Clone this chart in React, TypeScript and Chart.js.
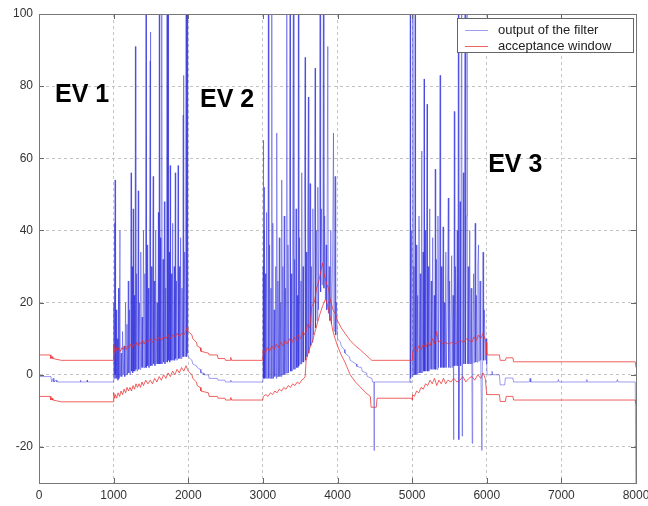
import React, { useEffect, useRef } from 'react';
import { Chart, registerables } from 'chart.js';

Chart.register(...registerables);

type P = [number, number];

// ---- axis ticks ----
const xTicks = [0, 1000, 2000, 3000, 4000, 5000, 6000, 7000, 8000];
const yTicks = [-20, 0, 20, 40, 60, 80, 100];

// ---- legend / annotation texts ----
const seriesLabels = ['output of the filter', 'acceptance window'];
const evLabelText = ['EV 1', 'EV 2', 'EV 3'];
const evLabelX = [214, 2158, 6019];
const evLabelY = [77.5, 76, 58];

// ---- output of the filter (blue) ----
const filterStart: P[] = [
  [0, 32], [5, -0.5], [160, -0.5], [170, -2], [190, -1], [200, -2], [230, -1.5], [240, -2],
  [550, -2], [555, -1.5], [560, -2], [640, -2], [645, -1.5], [650, -2], [995, -2],
];
const filterEv1: P[] = [
  [1000, -1.5], [1004, 20], [1008, -1], [1013, 42], [1016, 0], [1019, 54], [1022, -1], [1026, 30],
  [1030, 0], [1036, 18], [1042, -1], [1050, 10], [1058, -1.5], [1066, 24], [1072, -1], [1085, 40],
  [1090, -0.5], [1100, 6], [1110, -0.5], [1120, 12], [1130, 0], [1140, 8], [1150, -0.5], [1160, 20],
  [1168, 0], [1178, 14], [1186, 0], [1196, 26], [1204, 0.5], [1214, 18], [1222, 0], [1234, 56],
  [1240, 1], [1250, 30], [1256, 0.5], [1262, 46], [1268, 1], [1278, 22], [1284, 1], [1292, 91],
  [1298, 1.5], [1308, 28], [1316, 1], [1330, 51], [1336, 1.5], [1346, 20], [1354, 1.5], [1364, 34],
  [1372, 2], [1382, 16], [1390, 2], [1400, 40], [1408, 2], [1418, 28], [1426, 2], [1434, 130],
  [1440, 2], [1448, 36], [1456, 2.5], [1466, 24], [1474, 2], [1490, 87], [1493, 95], [1497, 2.5],
  [1506, 30], [1514, 2.5], [1530, 55], [1536, 3], [1546, 26], [1554, 2.5], [1564, 40], [1572, 3],
  [1582, 20], [1590, 3], [1600, 45], [1606, 3], [1612, 130], [1618, 3], [1628, 38], [1634, 3],
  [1646, 130], [1652, 3], [1662, 32], [1670, 3.5], [1680, 48], [1688, 3], [1698, 24], [1706, 3.5],
  [1716, 130], [1722, 3.5], [1730, 130], [1736, 4], [1746, 34], [1752, 3.5], [1758, 58], [1764, 4],
  [1774, 28], [1782, 4], [1792, 42], [1800, 4], [1812, 30], [1818, 4], [1826, 56], [1832, 4.5],
  [1842, 26], [1850, 4], [1864, 58], [1870, 4.5], [1880, 30], [1888, 4.5], [1898, 38], [1906, 4.5],
  [1916, 24], [1924, 5], [1932, 72], [1936, 83], [1942, 5], [1952, 34], [1960, 5], [1972, 130],
  [1978, 5], [1986, 130], [1992, 6], [2000, 5],
];
const filterGap1: P[] = [
  [2010, 5], [2050, 4], [2060, 3], [2110, 2.5], [2120, 2], [2160, 1.5], [2170, 0.5], [2200, 0.5],
  [2210, 0], [2270, 0], [2280, -1], [2390, -1], [2400, -1.5], [2490, -1.5], [2500, -2],
  [2560, -2], [2570, -1.5], [2580, -2], [2995, -2],
];
const filterEv2: P[] = [
  [3000, -1.5], [3004, 30], [3007, 65], [3011, -1], [3016, 40], [3020, 52], [3024, -1], [3032, 28],
  [3040, -1], [3050, 45], [3058, -1], [3068, 20], [3074, 130], [3080, -1], [3090, 36], [3098, -1],
  [3108, 24], [3114, -1], [3119, 130], [3124, -1], [3134, 42], [3142, -1], [3152, 18], [3160, -0.5],
  [3172, 30], [3180, -1], [3186, 67], [3192, -0.5], [3202, 26], [3210, -0.5], [3220, 38], [3228, -0.5],
  [3240, 20], [3246, -0.5], [3253, 54], [3258, 0], [3268, 30], [3276, 0], [3286, 44], [3294, 0],
  [3304, 24], [3312, 0.5], [3320, 130], [3326, 0.5], [3336, 36], [3344, 0.5], [3356, 48], [3365, 130],
  [3370, 1], [3380, 28], [3388, 1], [3398, 40], [3410, 130], [3416, 1.5], [3426, 32], [3434, 1.5],
  [3444, 46], [3452, 2], [3462, 22], [3470, 2], [3476, 130], [3482, 2.5], [3492, 38], [3500, 3],
  [3510, 26], [3516, 3], [3521, 56], [3528, 3.5], [3538, 30], [3546, 3.5], [3556, 44], [3566, 88],
  [3572, 4], [3582, 34], [3590, 5], [3600, 48], [3610, 77], [3616, 6], [3624, 36], [3633, 53],
  [3640, 8], [3650, 30], [3660, 9], [3670, 46], [3680, 11], [3690, 34], [3700, 85], [3706, 13],
  [3716, 40], [3726, 15], [3736, 52], [3746, 18], [3756, 38], [3767, 130], [3774, 23], [3784, 46],
  [3794, 25], [3804, 34], [3812, 130], [3818, 24], [3828, 44], [3838, 21], [3848, 36], [3856, 18],
  [3870, 91], [3878, 17], [3888, 30], [3898, 15], [3910, 40], [3920, 14], [3932, 28], [3946, 67],
  [3954, 12], [3968, 55], [3976, 11], [3986, 20], [4000, 10],
];
const filterGap2: P[] = [
  [4040, 9], [4050, 8], [4090, 7], [4100, 6], [4160, 5], [4170, 4], [4250, 3], [4260, 2.3],
  [4320, 2], [4330, 1], [4390, 0.5], [4400, -0.5], [4460, -1], [4470, -2], [4488, -2], [4490, -21],
  [4494, -2], [4995, -2],
];
const filterEv3: P[] = [
  [4970, -2], [4975, 130], [4980, -1], [4990, 40], [5000, -0.5], [5010, 130], [5016, 0], [5024, 30],
  [5032, 0], [5040, 130], [5046, 0], [5056, 36], [5064, 0], [5074, 22], [5082, 0.5], [5092, 44],
  [5100, 0.5], [5110, 28], [5118, 0.5], [5130, 62], [5136, 0.5], [5146, 34], [5154, 1], [5160, 82],
  [5166, 1], [5176, 40], [5184, 1], [5200, 75], [5206, 1], [5216, 30], [5224, 1], [5236, 46],
  [5244, 1.5], [5256, 26], [5264, 1.5], [5276, 38], [5284, 1.5], [5296, 22], [5304, 1.5], [5310, 57],
  [5316, 1.5], [5326, 32], [5334, 1.5], [5346, 44], [5354, 2], [5364, 24], [5375, 83], [5382, 2],
  [5392, 30], [5400, 2], [5415, 41], [5422, 2], [5432, 20], [5440, 2], [5452, 34], [5460, 2],
  [5470, 16], [5485, 49], [5492, 2], [5502, 26], [5510, 2], [5520, 14], [5530, 33], [5538, 2],
  [5548, 22], [5555, -18], [5560, 2.5], [5565, 73], [5572, 2.5], [5582, 30], [5592, 2.5], [5604, 40],
  [5612, 2.5], [5620, 130], [5626, -18], [5632, 2.5], [5642, 48], [5650, 2.5], [5665, 130], [5670, -17],
  [5676, 3], [5686, 56], [5694, 3], [5710, 130], [5716, 3], [5726, 44], [5735, 130], [5742, 3],
  [5752, 30], [5760, 3], [5772, 40], [5780, 3], [5790, 24], [5800, 3], [5805, -19], [5812, 3.3],
  [5824, 28], [5832, 3.3], [5845, 42], [5852, 3.5], [5862, 22], [5870, 3.5], [5880, 30], [5890, 36],
  [5898, 3.7], [5910, 26], [5920, 4], [5935, -21], [5942, 4], [5950, 34], [5958, 4], [5968, 18],
  [5980, 4], [5990, 10], [6000, 3],
];
const filterTail: P[] = [
  [6005, 0], [6060, 0], [6070, 1], [6080, 0], [6170, 0], [6180, -2.8], [6240, -2.8], [6250, -0.9],
  [6350, -0.9], [6360, -2], [6570, -2], [6580, -1], [6590, -2], [6950, -2], [6960, -1.3], [6970, -2],
  [7330, -2], [7340, -1.3], [7350, -2], [7740, -2], [7750, -1.3], [7760, -2], [7990, -2], [8000, -35],
];

// ---- acceptance window, upper edge (red) ----
const upperStart: P[] = [
  [0, 13], [6, 5.5], [150, 5.5], [160, 4.5], [175, 5], [185, 4.5], [300, 4], [998, 4],
];
const upperEv1: P[] = [
  [1000, 4], [1003, 8.5], [1010, 7], [1020, 6], [1035, 7.5], [1050, 6.5], [1070, 7.5], [1090, 6.5],
  [1110, 7.5], [1130, 7], [1150, 8], [1170, 7], [1190, 8], [1210, 7.5], [1230, 8.5], [1250, 7.5],
  [1270, 8.5], [1290, 8], [1310, 9], [1330, 8], [1350, 9], [1370, 8.5], [1390, 9.5], [1410, 8.5],
  [1430, 9.5], [1460, 9], [1490, 10], [1520, 9], [1550, 10], [1580, 9.5], [1610, 10.5], [1640, 9.5],
  [1670, 10.5], [1700, 10], [1730, 11], [1760, 10], [1790, 11], [1820, 10.5], [1850, 11.5], [1880, 10.5],
  [1910, 11.5], [1940, 11], [1970, 12], [1990, 13.5], [2000, 12],
];
const upperGap1: P[] = [
  [2050, 11], [2060, 10], [2110, 9], [2120, 8], [2160, 7.5], [2170, 6.5], [2270, 6], [2280, 5.5],
  [2390, 5.5], [2400, 4.5], [2490, 4.5], [2500, 4], [2560, 4], [2570, 4.8], [2580, 4], [2998, 4],
];
const upperEv2: P[] = [
  [3000, 4], [3005, 7], [3030, 6], [3060, 7.5], [3090, 6.5], [3120, 8], [3150, 7], [3180, 8.5],
  [3210, 7.5], [3240, 9], [3270, 8], [3300, 9.5], [3330, 8.5], [3360, 10], [3390, 9], [3420, 10.5],
  [3450, 9.5], [3480, 11], [3510, 10], [3540, 12], [3566, 11], [3600, 14], [3630, 13], [3655, 19],
  [3690, 20], [3720, 24], [3750, 26], [3780, 29], [3800, 31], [3820, 28], [3856, 25], [3880, 24],
  [3900, 21], [3940, 18], [3968, 17], [4000, 15],
];
const upperGap2: P[] = [
  [4050, 13], [4100, 11.5], [4170, 9.5], [4240, 8], [4300, 7], [4380, 5.5], [4460, 4], [4998, 4],
];
const upperEv3: P[] = [
  [5000, 4], [5005, 6], [5030, 7.5], [5060, 6.5], [5090, 8], [5120, 7], [5150, 8.5], [5180, 7.5],
  [5210, 9], [5240, 8], [5270, 10], [5300, 8.5], [5330, 12], [5350, 9], [5380, 9.5], [5410, 8.5],
  [5450, 9], [5490, 8.5], [5530, 9], [5570, 8.5], [5610, 9], [5650, 9.5], [5690, 9], [5730, 10],
  [5770, 9.5], [5800, 9], [5830, 10.5], [5860, 9.5], [5890, 11], [5920, 10], [5950, 11.5], [5975, 10],
  [5990, 9], [6000, 5.5],
];
const upperTail: P[] = [
  [6170, 5.5], [6180, 4], [6250, 4], [6260, 4.7], [6350, 4.7], [6360, 3.6], [7990, 3.6], [8000, 2],
];

// ---- acceptance window, lower edge (red) ----
const lowerStart: P[] = [
  [0, -1], [6, -6], [150, -6], [160, -7], [175, -6.5], [185, -7], [300, -7.5], [998, -7.5],
];
const lowerEv1: P[] = [
  [1000, -7.5], [1004, -5], [1012, -6.5], [1025, -5.5], [1040, -6.5], [1060, -5], [1080, -6], [1100, -4.5],
  [1120, -5.5], [1140, -4], [1160, -5], [1180, -3.5], [1200, -4.5], [1220, -3.5], [1240, -4.5], [1260, -3],
  [1280, -4], [1300, -2.5], [1320, -3.5], [1340, -2.5], [1360, -3.5], [1380, -2], [1400, -3], [1430, -1.5],
  [1460, -2.5], [1490, -1.5], [1520, -2.5], [1550, -1], [1580, -2], [1610, -0.5], [1640, -1.5], [1670, 0],
  [1700, -1], [1730, 0.5], [1760, -0.5], [1790, 1], [1820, 0], [1850, 1.5], [1880, 0.5], [1910, 2],
  [1940, 1], [1970, 2.5], [1990, 1.5], [2000, 1],
];
const lowerGap1: P[] = [
  [2050, 0], [2060, -1], [2110, -2], [2120, -3], [2160, -3.5], [2170, -4.5], [2270, -5], [2280, -6],
  [2390, -6], [2400, -6.5], [2490, -6.5], [2500, -7], [2560, -7], [2570, -6.3], [2580, -7], [2998, -7],
];
const lowerEv2: P[] = [
  [3000, -7], [3005, -6], [3040, -5.5], [3070, -6], [3100, -5], [3130, -5.5], [3160, -4.5], [3190, -5],
  [3220, -4], [3250, -4.5], [3280, -3.5], [3310, -4], [3340, -3], [3370, -3.5], [3400, -2.5], [3430, -3],
  [3460, -2], [3490, -2.5], [3520, -1.5], [3550, -1], [3566, -0.5], [3580, 4], [3620, 7], [3660, 9],
  [3700, 12], [3740, 15], [3767, 17], [3800, 19], [3840, 21], [3870, 19], [3900, 16], [3940, 12],
  [3968, 10], [4000, 8],
];
const lowerGap2: P[] = [
  [4050, 5.5], [4100, 3.5], [4170, 0], [4240, -2], [4300, -3.3], [4380, -5], [4440, -6], [4450, -9],
  [4520, -9], [4530, -6.5], [4998, -6.5],
];
const lowerEv3: P[] = [
  [5000, -7], [5005, -5.5], [5030, -6], [5060, -4.5], [5090, -5], [5120, -3.5], [5150, -4], [5180, -2.5],
  [5210, -3], [5240, -1.5], [5270, -2.5], [5300, -1], [5330, -3], [5360, -1.5], [5390, -2.5], [5420, -1],
  [5450, -2.5], [5480, -1.5], [5520, -2], [5560, -1], [5600, -2], [5640, -1.5], [5680, -0.5], [5720, -2],
  [5760, -1], [5800, -0.5], [5840, -1.5], [5880, 0], [5920, -1], [5950, 0.5], [5980, -1], [6000, -5.5],
];
const lowerTail: P[] = [
  [6170, -5.5], [6180, -7.4], [6250, -7.4], [6260, -6], [6350, -6], [6360, -7], [7990, -7], [8000, -8.3],
];

const filterOutput = [...filterStart, ...filterEv1, ...filterGap1, ...filterEv2, ...filterGap2, ...filterEv3, ...filterTail];
const windowUpper = [...upperStart, ...upperEv1, ...upperGap1, ...upperEv2, ...upperGap2, ...upperEv3, ...upperTail];
const windowLower = [...lowerStart, ...lowerEv1, ...lowerGap1, ...lowerEv2, ...lowerGap2, ...lowerEv3, ...lowerTail];

const toXY = (a: P[]) => a.map(([x, y]) => ({ x, y }));

const BLUE = 'rgba(40, 40, 220, 0.45)';
const RED = 'rgba(235, 45, 45, 0.75)';
const TICK_FONT = { family: 'Arial, "Liberation Sans", Helvetica, sans-serif', size: 12 };

const matlabPlugin = {
  id: 'matlabDecor',
  afterDraw(chart: any) {
    const { ctx, chartArea: a, scales } = chart;
    const xs = scales.x;
    const ys = scales.y;
    ctx.save();
    // inner ticks
    ctx.strokeStyle = '#666';
    ctx.lineWidth = 1;
    ctx.beginPath();
    xTicks.forEach((v) => {
      const px = Math.round(xs.getPixelForValue(v)) + 0.5;
      ctx.moveTo(px, a.bottom);
      ctx.lineTo(px, a.bottom - 5);
      ctx.moveTo(px, a.top);
      ctx.lineTo(px, a.top + 5);
    });
    yTicks.forEach((v) => {
      const py = Math.round(ys.getPixelForValue(v)) + 0.5;
      ctx.moveTo(a.left, py);
      ctx.lineTo(a.left + 5, py);
      ctx.moveTo(a.right, py);
      ctx.lineTo(a.right - 5, py);
    });
    ctx.stroke();
    // frame
    ctx.strokeStyle = '#777';
    ctx.strokeRect(Math.round(a.left) + 0.5, Math.round(a.top) + 0.5, Math.round(a.right - a.left), Math.round(a.bottom - a.top));

    // EV annotations
    ctx.fillStyle = '#000';
    ctx.font = 'bold 25px Arial, "Liberation Sans", Helvetica, sans-serif';
    ctx.textAlign = 'left';
    ctx.textBaseline = 'middle';
    evLabelText.forEach((t, i) => {
      ctx.fillText(t, xs.getPixelForValue(evLabelX[i]), ys.getPixelForValue(evLabelY[i]));
    });

    // legend box
    const bx = a.right - 179;
    const by = a.top + 4;
    const bw = 176;
    const bh = 34;
    ctx.fillStyle = '#fff';
    ctx.fillRect(bx, by, bw, bh);
    ctx.strokeStyle = '#666';
    ctx.strokeRect(Math.round(bx) + 0.5, Math.round(by) + 0.5, bw, bh);
    const ds = chart.data.datasets;
    const entries = [ds[0], ds[1]];
    ctx.font = '13px Arial, "Liberation Sans", Helvetica, sans-serif';
    ctx.textBaseline = 'middle';
    entries.forEach((d: any, i: number) => {
      const ly = Math.round(by + 12 + i * 16) + 0.5;
      ctx.strokeStyle = d.borderColor;
      ctx.beginPath();
      ctx.moveTo(bx + 8, ly);
      ctx.lineTo(bx + 31, ly);
      ctx.stroke();
      ctx.fillStyle = '#222';
      ctx.fillText(d.label, bx + 41, ly);
    });
    ctx.restore();
  },
};

export default function App() {
  const ref = useRef<HTMLCanvasElement | null>(null);
  useEffect(() => {
    if (!ref.current) return;
    const chart = new Chart(ref.current, {
      type: 'line',
      data: {
        datasets: [
          {
            label: seriesLabels[0],
            data: toXY(filterOutput),
            borderColor: BLUE,
            borderWidth: 1,
            pointRadius: 0,
            tension: 0,
            order: 1,
          },
          {
            label: seriesLabels[1],
            data: toXY(windowUpper),
            borderColor: RED,
            borderWidth: 1,
            pointRadius: 0,
            tension: 0,
            order: 0,
          },
          {
            label: seriesLabels[1] + ' (lower)',
            data: toXY(windowLower),
            borderColor: RED,
            borderWidth: 1,
            pointRadius: 0,
            tension: 0,
            order: 0,
          },
        ],
      } as any,
      options: {
        animation: false,
        responsive: false,
        devicePixelRatio: 1,
        events: [],
        layout: { padding: { top: 14, right: 12, left: 0, bottom: 0 } },
        plugins: { legend: { display: false }, tooltip: { enabled: false } },
        scales: {
          x: {
            type: 'linear',
            min: 0,
            max: 8000,
            afterBuildTicks: (s: any) => {
              s.ticks = xTicks.map((v) => ({ value: v }));
            },
            afterFit: (s: any) => {
              s.height = 23;
              s.paddingLeft = 0;
              s.paddingRight = 0;
            },
            grid: { color: '#c4c4c4', drawTicks: false, lineWidth: 1 },
            border: { display: true, color: '#777', dash: [3, 3] },
            ticks: {
              color: '#333',
              font: TICK_FONT,
              padding: 5,
              maxRotation: 0,
              autoSkip: false,
              callback: (v: any) => String(v),
            },
          },
          y: {
            type: 'linear',
            min: -30,
            max: 100,
            afterBuildTicks: (s: any) => {
              s.ticks = yTicks.map((v) => ({ value: v }));
            },
            afterFit: (s: any) => {
              s.width = 39;
              s.paddingTop = 0;
              s.paddingBottom = 0;
            },
            grid: { color: '#c4c4c4', drawTicks: false, lineWidth: 1 },
            border: { display: true, color: '#777', dash: [3, 3] },
            ticks: { color: '#333', font: TICK_FONT, padding: 6, autoSkip: false, callback: (v: any) => String(v) },
          },
        },
      } as any,
      plugins: [matlabPlugin],
    });
    return () => chart.destroy();
  }, []);
  return (
    <div style={{ position: 'fixed', left: 0, top: 0, width: 648, height: 506, background: '#fff' }}>
      <canvas ref={ref} width={648} height={506} style={{ display: 'block' }} />
    </div>
  );
}
